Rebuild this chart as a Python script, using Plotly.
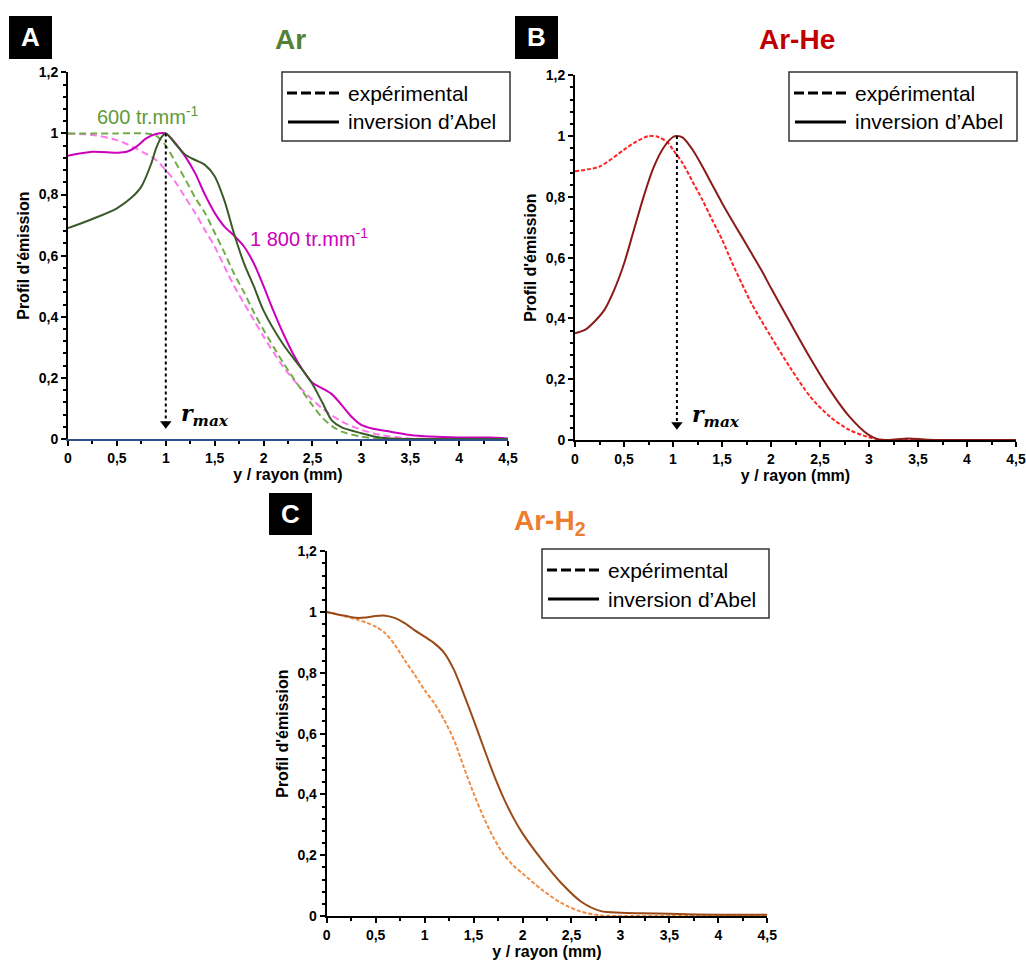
import plotly.graph_objects as go

W, H = 1026, 963

# ---------------- data ----------------
# Panel A (Ar)
a600_abel_x = [0, 0.25, 0.5, 0.65, 0.75, 0.85, 0.9, 0.95, 1.0, 1.1, 1.2, 1.3, 1.4, 1.5, 1.6, 1.7, 1.8, 1.9, 2.0, 2.2, 2.4, 2.5, 2.6, 2.7, 2.8, 3.0, 3.2, 3.5, 4.0, 4.5]
a600_abel_y = [0.69, 0.72, 0.755, 0.79, 0.826, 0.90, 0.95, 0.985, 1.0, 0.965, 0.93, 0.913, 0.897, 0.86, 0.78, 0.67, 0.575, 0.5, 0.42, 0.31, 0.225, 0.18, 0.12, 0.06, 0.038, 0.019, 0.004, 0.0, 0.0, 0.0]
a600_exp_x = [0, 0.5, 0.8, 0.9, 1.0, 1.1, 1.2, 1.3, 1.4, 1.5, 1.6, 1.7, 1.8, 1.9, 2.0, 2.2, 2.4, 2.5, 2.6, 2.7, 2.8, 3.0, 3.2, 3.5]
a600_exp_y = [1.0, 1.0, 1.0, 0.993, 0.96, 0.905, 0.85, 0.79, 0.74, 0.675, 0.61, 0.54, 0.48, 0.415, 0.357, 0.25, 0.155, 0.11, 0.07, 0.042, 0.024, 0.008, 0.0, 0.0]
a1800_abel_x = [0, 0.25, 0.5, 0.6, 0.7, 0.8, 0.9, 1.0, 1.1, 1.2, 1.3, 1.4, 1.5, 1.6, 1.7, 1.8, 1.9, 2.0, 2.1, 2.2, 2.3, 2.4, 2.5, 2.6, 2.7, 2.8, 2.9, 3.0, 3.1, 3.3, 3.5, 3.7, 4.0, 4.3, 4.5]
a1800_abel_y = [0.927, 0.94, 0.937, 0.94, 0.957, 0.984, 0.998, 1.0, 0.967, 0.924, 0.87, 0.80, 0.74, 0.695, 0.665, 0.63, 0.575, 0.5, 0.42, 0.346, 0.28, 0.226, 0.184, 0.166, 0.146, 0.111, 0.073, 0.046, 0.035, 0.024, 0.013, 0.008, 0.005, 0.005, 0.002]
a1800_exp_x = [0, 0.25, 0.5, 0.7, 0.9, 1.0, 1.1, 1.2, 1.3, 1.4, 1.5, 1.6, 1.7, 1.8, 1.9, 2.0, 2.2, 2.4, 2.6, 2.8, 3.0, 3.2, 3.5, 3.8]
a1800_exp_y = [1.0, 0.995, 0.978, 0.95, 0.913, 0.88, 0.84, 0.79, 0.74, 0.684, 0.63, 0.564, 0.5, 0.444, 0.39, 0.335, 0.237, 0.16, 0.1, 0.057, 0.03, 0.013, 0.002, 0.0]

# Panel B (Ar-He)
b_exp_x = [0, 0.25, 0.5, 0.6, 0.75, 0.85, 0.95, 1.0, 1.1, 1.2, 1.3, 1.4, 1.5, 1.6, 1.7, 1.8, 2.0, 2.2, 2.4, 2.6, 2.8, 3.0, 3.1, 3.2, 3.5, 4.0, 4.5]
b_exp_y = [0.884, 0.9, 0.955, 0.977, 1.0, 0.997, 0.977, 0.955, 0.91, 0.85, 0.79, 0.724, 0.66, 0.585, 0.516, 0.45, 0.34, 0.236, 0.143, 0.077, 0.033, 0.009, 0.002, 0.0, 0.0, 0.0, 0.0]
b_abel_x = [0, 0.1, 0.2, 0.3, 0.4, 0.5, 0.6, 0.7, 0.8, 0.9, 1.0, 1.04, 1.1, 1.2, 1.3, 1.4, 1.5, 1.6, 1.7, 1.8, 1.9, 2.0, 2.2, 2.4, 2.6, 2.8, 3.0, 3.1, 3.2, 3.4, 3.6, 4.0, 4.5]
b_abel_y = [0.351, 0.362, 0.39, 0.428, 0.494, 0.58, 0.69, 0.80, 0.895, 0.96, 0.997, 1.0, 0.995, 0.955, 0.9, 0.84, 0.78, 0.724, 0.67, 0.615, 0.56, 0.5, 0.384, 0.27, 0.165, 0.077, 0.016, 0.002, 0.0, 0.005, 0.001, 0.0, 0.0]

# Panel C (Ar-H2)
c_abel_x = [0, 0.1, 0.2, 0.3, 0.4, 0.5, 0.6, 0.7, 0.8, 0.9, 1.0, 1.1, 1.2, 1.3, 1.4, 1.5, 1.6, 1.7, 1.8, 1.9, 2.0, 2.2, 2.4, 2.6, 2.8, 3.0, 3.2, 3.5, 4.0, 4.5]
c_abel_y = [1.0, 0.993, 0.987, 0.981, 0.982, 0.987, 0.988, 0.98, 0.963, 0.94, 0.919, 0.897, 0.866, 0.81, 0.73, 0.645, 0.557, 0.47, 0.393, 0.327, 0.272, 0.184, 0.107, 0.047, 0.016, 0.011, 0.009, 0.007, 0.004, 0.004]
c_exp_x = [0, 0.1, 0.2, 0.3, 0.4, 0.5, 0.6, 0.7, 0.8, 0.9, 1.0, 1.1, 1.2, 1.3, 1.4, 1.5, 1.6, 1.7, 1.8, 1.9, 2.0, 2.2, 2.4, 2.6, 2.8, 3.0, 3.5, 4.0, 4.5]
c_exp_y = [1.0, 0.993, 0.985, 0.976, 0.966, 0.952, 0.93, 0.89, 0.84, 0.793, 0.743, 0.7, 0.645, 0.579, 0.49, 0.404, 0.327, 0.26, 0.206, 0.168, 0.14, 0.086, 0.042, 0.014, 0.002, 0.0, 0.0, 0.0, 0.0]

rmax_a = 1.0
rmax_b = 1.04

x_ticks = [0, 0.5, 1, 1.5, 2, 2.5, 3, 3.5, 4, 4.5]
y_ticks = [0, 0.2, 0.4, 0.6, 0.8, 1, 1.2]

# ---------------- helpers ----------------
def px(x):
    return x / W

def py(y):
    return 1 - y / H

fig = go.Figure()

def line(xs, ys, color, dash, width, axis):
    xa, ya = axis
    fig.add_trace(go.Scatter(x=xs, y=ys, mode="lines", xaxis=xa, yaxis=ya,
                             line=dict(color=color, dash=dash, width=width, shape="spline", smoothing=0.8),
                             showlegend=False, hoverinfo="skip"))

def rmax_arrow(xv, axis):
    xa, ya = axis
    fig.add_trace(go.Scatter(x=[xv, xv], y=[1.0, 0.045], mode="lines", xaxis=xa, yaxis=ya,
                             line=dict(color="black", dash="dot", width=2),
                             showlegend=False, hoverinfo="skip"))
    fig.add_trace(go.Scatter(x=[xv], y=[0.05], mode="markers", xaxis=xa, yaxis=ya,
                             marker=dict(symbol="triangle-down", size=10, color="black"),
                             showlegend=False, hoverinfo="skip", cliponaxis=False))

A = ("x", "y")
B = ("x2", "y2")
C = ("x3", "y3")

# Panel A
line(a1800_exp_x, a1800_exp_y, "#FF77EE", "7px,4px", 2, A)
line(a600_exp_x, a600_exp_y, "#70AD47", "7px,4px", 2, A)
line(a1800_abel_x, a1800_abel_y, "#CC00BB", "solid", 2, A)
line(a600_abel_x, a600_abel_y, "#3A5A28", "solid", 2, A)
rmax_arrow(rmax_a, A)

# Panel B
line(b_exp_x, b_exp_y, "#FF2222", "4px,2px", 2, B)
line(b_abel_x, b_abel_y, "#8B1A1A", "solid", 2, B)
rmax_arrow(rmax_b, B)

# Panel C
line(c_exp_x, c_exp_y, "#F28C40", "4px,2px", 2, C)
line(c_abel_x, c_abel_y, "#9A4A16", "solid", 2, C)

# ---------------- axes ----------------
tickfont = dict(family="Liberation Sans, Arial", size=14, color="black", weight="bold")
titlefont = dict(family="Liberation Sans, Arial", size=16, color="black")

def xaxis(domain, anchor, linecolor="black"):
    return dict(domain=domain, anchor=anchor, range=[0, 4.5], tickvals=x_ticks, automargin=False,
                showgrid=False, zeroline=False, showline=True, linecolor=linecolor, linewidth=2,
                ticks="outside", ticklen=5, tickwidth=1.5, tickcolor="black",
                minor=dict(dtick=0.25, ticks="outside", ticklen=3, tickwidth=1.5, tickcolor="black", showgrid=False),
                tickfont=tickfont,
                title=dict(text="<b>y / rayon (mm)</b>", font=titlefont, standoff=3))

def yaxis(domain, anchor):
    return dict(domain=domain, anchor=anchor, range=[0, 1.2], tickvals=y_ticks, automargin=False,
                showgrid=False, zeroline=False, showline=True, linecolor="black", linewidth=2,
                ticks="outside", ticklen=5, tickwidth=1.5, tickcolor="black",
                minor=dict(dtick=0.04, ticks="outside", ticklen=3, tickwidth=1.5, tickcolor="black", showgrid=False),
                tickfont=tickfont,
                title=dict(text="<b>Profil d'émission</b>", font=titlefont, standoff=5))

fig.update_layout(
    xaxis=xaxis([px(68), px(508)], "y", linecolor="#2F4F8F"),
    yaxis=yaxis([py(439), py(72.3)], "x"),
    xaxis2=xaxis([px(575), px(1016)], "y2"),
    yaxis2=yaxis([py(440), py(75.3)], "x2"),
    xaxis3=xaxis([px(326.7), px(767.3)], "y3"),
    yaxis3=yaxis([py(916), py(551.3)], "x3"),
)

shapes = []
annotations = []

# panel labels
def panel_label(letter, x0, y0, x1, y1):
    shapes.append(dict(type="rect", xref="paper", yref="paper", x0=px(x0), x1=px(x1), y0=py(y1), y1=py(y0),
                       fillcolor="black", line=dict(width=0)))
    annotations.append(dict(text="<b>%s</b>" % letter, xref="paper", yref="paper",
                            x=px((x0 + x1) / 2), y=py((y0 + y1) / 2), showarrow=False,
                            xanchor="center", yanchor="middle",
                            font=dict(family="Liberation Sans, Arial", size=26, color="white")))

panel_label("A", 9, 16, 52, 59)
panel_label("B", 515, 16, 558, 59)
panel_label("C", 269, 493, 312, 535)

# titles
def title(text, color, xc, yc):
    annotations.append(dict(text="<b>%s</b>" % text, xref="paper", yref="paper", x=px(xc), y=py(yc),
                            showarrow=False, xanchor="center", yanchor="middle",
                            font=dict(family="Liberation Sans, Arial", size=28, color=color)))

title("Ar", "#548235", 290, 40)
title("Ar-He", "#C00000", 797, 40)
title("Ar-H<sub>2</sub>", "#ED7D31", 550, 522)

# legends (drawn boxes)
def legend_box(x0, y0, x1, y1):
    shapes.append(dict(type="rect", xref="paper", yref="paper", x0=px(x0), x1=px(x1), y0=py(y1), y1=py(y0),
                       line=dict(color="#333333", width=1.5), fillcolor="white"))
    ya = y0 + 21
    yb = y0 + 50
    shapes.append(dict(type="line", xref="paper", yref="paper", x0=px(x0 + 5), x1=px(x0 + 57), y0=py(ya), y1=py(ya),
                       line=dict(color="black", width=3, dash="10px,4px")))
    shapes.append(dict(type="line", xref="paper", yref="paper", x0=px(x0 + 6), x1=px(x0 + 57), y0=py(yb), y1=py(yb),
                       line=dict(color="black", width=3)))
    for t, yy in (("expérimental", ya), ("inversion d’Abel", yb)):
        annotations.append(dict(text=t, xref="paper", yref="paper", x=px(x0 + 64), y=py(yy),
                                showarrow=False, xanchor="left", yanchor="middle",
                                font=dict(family="Liberation Sans, Arial", size=21, color="black")))

legend_box(282, 72, 510, 141)
legend_box(789, 72, 1017, 141)
legend_box(542, 549, 769, 618)

# curve labels in panel A
annotations.append(dict(text="600 tr.mm<sup>-1</sup>", xref="x", yref="y", x=0.82, y=1.06, showarrow=False,
                        xanchor="center", yanchor="middle",
                        font=dict(family="Liberation Sans, Arial", size=20, color="#5E9A3A")))
annotations.append(dict(text="1 800 tr.mm<sup>-1</sup>", xref="x", yref="y", x=1.84, y=0.66, showarrow=False,
                        xanchor="left", yanchor="middle",
                        font=dict(family="Liberation Sans, Arial", size=20, color="#CC00BB")))

# r_max labels
for xa, ya, xv in (("x", "y", 1.14), ("x2", "y2", 1.17)):
    annotations.append(dict(text="<b><i>r</i></b><sub><b><i>max</i></b></sub>", xref=xa, yref=ya, x=xv, y=0.08,
                            showarrow=False, xanchor="left", yanchor="middle",
                            font=dict(family="DejaVu Serif, Liberation Serif", size=22, color="black")))

fig.update_layout(
    width=W, height=H, autosize=False, margin=dict(l=0, r=0, t=0, b=0, autoexpand=False),
    paper_bgcolor="white", plot_bgcolor="white",
    separators=", ",
    shapes=shapes, annotations=annotations,
    showlegend=False,
)

fig.write_html("out.html", config={"responsive": False, "displayModeBar": False},
               post_script="document.body.style.margin='0';document.body.style.overflow='hidden';")
